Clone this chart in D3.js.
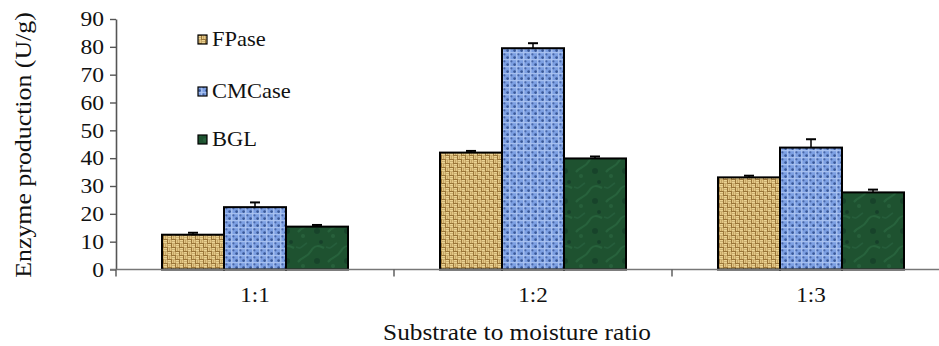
<!DOCTYPE html>
<html>
<head>
<meta charset="utf-8">
<script src="https://cdn.jsdelivr.net/npm/d3@7"></script>
<style>
  body { margin: 0; background: #fff; }
  text { font-family: "Liberation Serif", "Times New Roman", serif; fill: #111; }
</style>
</head>
<body>
<div class="chart"></div>
<script>
// data
const categories = ["1:1", "1:2", "1:3"];
const series = ["FPase", "CMCase", "BGL"];
const fpase  = [12.5, 42.0, 33.1];
const cmcase = [22.4, 79.5, 43.8];
const bgl    = [15.4, 39.9, 27.7];
const fpaseErr  = [0.7, 0.6, 0.6];
const cmcaseErr = [1.7, 1.8, 3.0];
const bglErr    = [0.6, 0.7, 1.0];
const yTicks = [0, 10, 20, 30, 40, 50, 60, 70, 80, 90];

const width = 939, height = 346;
const x0 = 116, x1 = 950, yZero = 269.5, yTop = 19;

const values = { FPase: fpase, CMCase: cmcase, BGL: bgl };
const errors = { FPase: fpaseErr, CMCase: cmcaseErr, BGL: bglErr };

const svg = d3.select(".chart").append("svg")
    .attr("width", width)
    .attr("height", height);

// textured fills
const defs = svg.append("defs");

// basket weave for FPase
const pF = defs.append("pattern").attr("id", "pat-FPase")
    .attr("patternUnits", "userSpaceOnUse").attr("width", 8).attr("height", 8);
pF.append("rect").attr("width", 8).attr("height", 8).attr("fill", "#9a7538");
[[0, 0, 3, 1.6], [0, 2, 3, 1.6], [4, 4, 3, 1.6], [4, 6, 3, 1.6]].forEach(r =>
    pF.append("rect").attr("x", r[0]).attr("y", r[1]).attr("width", r[2]).attr("height", r[3]).attr("fill", "#ecd494"));
[[4, 0, 1.6, 3], [6, 0, 1.6, 3], [0, 4, 1.6, 3], [2, 4, 1.6, 3]].forEach(r =>
    pF.append("rect").attr("x", r[0]).attr("y", r[1]).attr("width", r[2]).attr("height", r[3]).attr("fill", "#e3c684"));

// mottled blue for CMCase
const pC = defs.append("pattern").attr("id", "pat-CMCase")
    .attr("patternUnits", "userSpaceOnUse").attr("width", 7).attr("height", 7);
pC.append("rect").attr("width", 7).attr("height", 7).attr("fill", "#7c9fe2");
pC.append("rect").attr("x", 3.2).attr("y", 0).attr("width", 1.2).attr("height", 7).attr("fill", "#aec6f2");
pC.append("rect").attr("x", 0).attr("y", 3.2).attr("width", 7).attr("height", 1).attr("fill", "#aec6f2");
pC.append("circle").attr("cx", 1.6).attr("cy", 1.6).attr("r", 1.3).attr("fill", "#3a5897");
pC.append("circle").attr("cx", 5.4).attr("cy", 5.3).attr("r", 1.1).attr("fill", "#4866a8");

// dark mottled green for BGL
const pB = defs.append("pattern").attr("id", "pat-BGL")
    .attr("patternUnits", "userSpaceOnUse").attr("width", 30).attr("height", 30);
pB.append("rect").attr("width", 30).attr("height", 30).attr("fill", "#1e5230");
pB.append("path").attr("d", "M2,22 C7,16 11,18 15,11 S24,6 28,8").attr("fill", "none")
    .attr("stroke", "#2b6a41").attr("stroke-width", 2).attr("opacity", 0.7);
pB.append("path").attr("d", "M0,7 C5,10 7,5 11,3").attr("fill", "none")
    .attr("stroke", "#286340").attr("stroke-width", 1.5).attr("opacity", 0.7);
pB.append("circle").attr("cx", 21).attr("cy", 21).attr("r", 3).attr("fill", "#17432a");
pB.append("circle").attr("cx", 7).attr("cy", 26).attr("r", 2).attr("fill", "#27603b");
pB.append("circle").attr("cx", 25).attr("cy", 2).attr("r", 2).attr("fill", "#16402a");

// scales
const x = d3.scaleBand().domain(categories).range([x0, x1]).paddingInner(0).paddingOuter(0);
const xs = d3.scaleBand().domain(series).range([46, x.bandwidth() - 46]);
const y = d3.scaleLinear().domain([0, 90]).range([yZero, yTop]);

// stretch text a little, the original is wider than Times
function stretch(sel, k) {
    sel.each(function () {
        const w = this.getComputedTextLength();
        d3.select(this).attr("textLength", w * k).attr("lengthAdjust", "spacingAndGlyphs");
    });
}

// bars
const groups = svg.append("g").selectAll("g")
    .data(categories)
    .join("g")
    .attr("transform", c => `translate(${x(c)},0)`);

groups.selectAll("rect")
    .data((c, i) => series.map(s => ({ s, v: values[s][i], e: errors[s][i] })))
    .join("rect")
    .attr("x", d => xs(d.s))
    .attr("y", d => y(d.v))
    .attr("width", xs.bandwidth())
    .attr("height", d => y(0) - y(d.v))
    .attr("fill", d => `url(#pat-${d.s})`)
    .attr("stroke", "#000")
    .attr("stroke-width", 2);

// error bars (upper only)
const eb = groups.selectAll("g.err")
    .data((c, i) => series.map(s => ({ s, v: values[s][i], e: errors[s][i] })))
    .join("g").attr("class", "err");
eb.append("line")
    .attr("x1", d => xs(d.s) + xs.bandwidth() / 2)
    .attr("x2", d => xs(d.s) + xs.bandwidth() / 2)
    .attr("y1", d => y(d.v))
    .attr("y2", d => y(d.v + d.e))
    .attr("stroke", "#000").attr("stroke-width", 1.5);
eb.append("line")
    .attr("x1", d => xs(d.s) + xs.bandwidth() / 2 - 5)
    .attr("x2", d => xs(d.s) + xs.bandwidth() / 2 + 5)
    .attr("y1", d => y(d.v + d.e))
    .attr("y2", d => y(d.v + d.e))
    .attr("stroke", "#000").attr("stroke-width", 2);

// y axis
const yAxis = svg.append("g")
    .attr("transform", `translate(${x0},0)`)
    .call(d3.axisLeft(y).tickValues(yTicks).tickSize(6).tickSizeOuter(0));
yAxis.select(".domain").attr("stroke", "#555").attr("stroke-width", 1.6);
yAxis.selectAll(".tick line").attr("stroke", "#555").attr("stroke-width", 1.4);
yAxis.selectAll(".tick text")
    .attr("x", -12)
    .attr("font-size", 21)
    .attr("fill", "#111");
stretch(yAxis.selectAll(".tick text"), 1.12);

// x axis line with ticks at band edges
const xAxis = svg.append("g");
xAxis.append("line")
    .attr("x1", x0 - 6).attr("x2", x1)
    .attr("y1", yZero).attr("y2", yZero)
    .attr("stroke", "#777").attr("stroke-width", 1.6);
xAxis.selectAll("line.tk")
    .data(categories)
    .join("line").attr("class", "tk")
    .attr("x1", c => x(c)).attr("x2", c => x(c))
    .attr("y1", yZero).attr("y2", yZero + 7)
    .attr("stroke", "#555").attr("stroke-width", 1.4);
const xLabels = xAxis.selectAll("text")
    .data(categories)
    .join("text")
    .attr("x", c => x(c) + x.bandwidth() / 2)
    .attr("y", 302)
    .attr("text-anchor", "middle")
    .attr("font-size", 21)
    .text(c => c);
stretch(xLabels, 1.1);

// axis titles
const xt = svg.append("text")
    .attr("x", 517).attr("y", 340)
    .attr("text-anchor", "middle")
    .attr("font-size", 23)
    .text("Substrate to moisture ratio");
stretch(xt, 1.1);

const yt = svg.append("text")
    .attr("transform", "translate(31,145) rotate(-90)")
    .attr("text-anchor", "middle")
    .attr("font-size", 23.5)
    .text("Enzyme production (U/g)");
stretch(yt, 1.1);

// legend
const legendY = [44, 96, 144];
const legend = svg.append("g").selectAll("g")
    .data(series)
    .join("g")
    .attr("transform", (s, i) => `translate(198,${legendY[i]})`);
legend.append("rect")
    .attr("x", 0).attr("y", -9)
    .attr("width", 9).attr("height", 9)
    .attr("fill", s => `url(#pat-${s})`)
    .attr("stroke", "#000").attr("stroke-width", 1.2);
const lt = legend.append("text")
    .attr("x", 14).attr("y", 2)
    .attr("font-size", 21)
    .text(s => s);
stretch(lt, 1.07);
</script>
</body>
</html>
